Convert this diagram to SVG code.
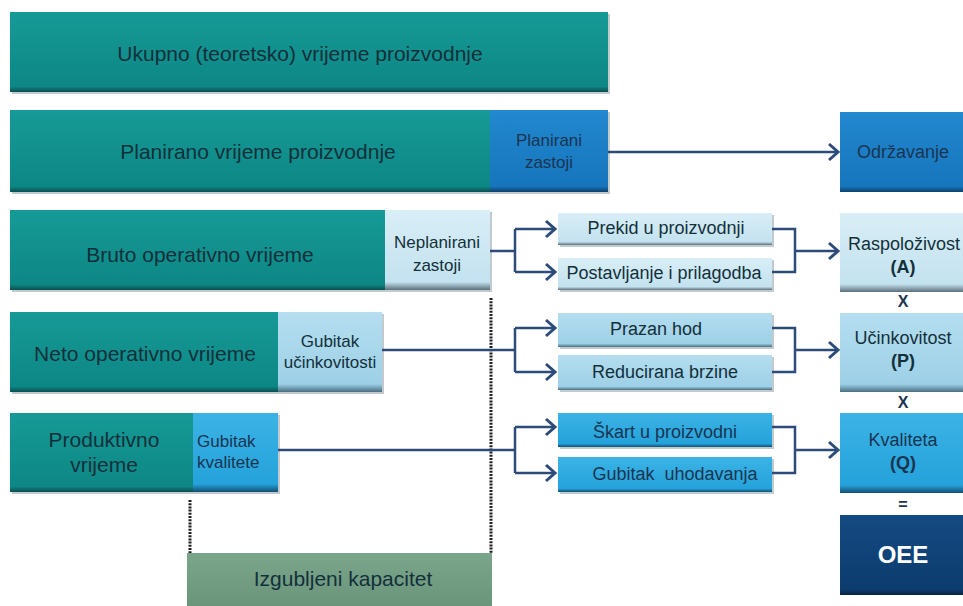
<svg xmlns="http://www.w3.org/2000/svg" width="963" height="606" viewBox="0 0 963 606">
<defs>
<linearGradient id="gTeal" x1="0" y1="0" x2="0" y2="1"><stop offset="0" stop-color="#169a97"/><stop offset="0.93" stop-color="#0d8785"/><stop offset="1" stop-color="#0a4f52"/></linearGradient>
<linearGradient id="gBlue" x1="0" y1="0" x2="0" y2="1"><stop offset="0" stop-color="#2288cf"/><stop offset="0.93" stop-color="#1675bd"/><stop offset="1" stop-color="#0d3f6a"/></linearGradient>
<linearGradient id="gLight" x1="0" y1="0" x2="0" y2="1"><stop offset="0" stop-color="#d9eef7"/><stop offset="0.9" stop-color="#c3e2ef"/><stop offset="1" stop-color="#5d707c"/></linearGradient>
<linearGradient id="gMid" x1="0" y1="0" x2="0" y2="1"><stop offset="0" stop-color="#b5def0"/><stop offset="0.9" stop-color="#9dd0e7"/><stop offset="1" stop-color="#4a6e80"/></linearGradient>
<linearGradient id="gBright" x1="0" y1="0" x2="0" y2="1"><stop offset="0" stop-color="#3cb3e6"/><stop offset="0.9" stop-color="#24a2da"/><stop offset="1" stop-color="#124f72"/></linearGradient>
<linearGradient id="gNavy" x1="0" y1="0" x2="0" y2="1"><stop offset="0" stop-color="#144a82"/><stop offset="0.93" stop-color="#0d3c6e"/><stop offset="1" stop-color="#08223f"/></linearGradient>
<linearGradient id="gGreen" x1="0" y1="0" x2="0" y2="1"><stop offset="0" stop-color="#7ba68b"/><stop offset="1" stop-color="#6a957b"/></linearGradient>
<marker id="arr" markerUnits="userSpaceOnUse" markerWidth="16" markerHeight="20" refX="12" refY="10" orient="auto" viewBox="0 0 16 20">
<path d="M3,2 L12,10 L3,18" fill="none" stroke="#2c4b78" stroke-width="3"/>
</marker>
<style>
text{font-family:"Liberation Sans",Arial,sans-serif;text-anchor:middle;fill:#13303a;}
.big{font-size:21px;}
.sm{font-size:18px;}
.xs{font-size:17px;}
.dk{fill:#1b3550;}
.b{font-weight:bold;}
.op{font-size:16px;font-weight:bold;fill:#1b3550;}
.teal{fill:url(#gTeal);}
.blue{fill:url(#gBlue);}
.light{fill:url(#gLight);}
.midc{fill:url(#gMid);}
.bright{fill:url(#gBright);}
.navy{fill:url(#gNavy);}
.green{fill:url(#gGreen);}
.shadow{fill:#7a8a90;opacity:0.45;}
.con{fill:none;stroke:#2c4b78;stroke-width:2.5;}
.dot{fill:none;stroke:#1e1e1e;stroke-width:3;stroke-dasharray:2 1.2;}
</style>
</defs>
<rect width="963" height="606" fill="#ffffff"/>

<g id="dotted">
<path class="dot" d="M491,298 V553"/>
<path class="dot" d="M190,500 V553"/>
</g>

<g id="n-ukupno">
<rect class="shadow" x="12" y="14" width="598" height="80"/>
<rect class="teal" x="10" y="12" width="598" height="80"/>
<text class="big" x="300" y="61">Ukupno (teoretsko) vrijeme proizvodnje</text>
</g>

<g id="n-planirano">
<rect class="shadow" x="12" y="112" width="598" height="82"/>
<rect class="teal" x="10" y="110" width="480" height="82"/>
<text class="big" x="258" y="159">Planirano vrijeme proizvodnje</text>
</g>
<g id="n-planirani-zastoji">
<rect class="blue" x="490" y="110" width="118" height="82"/>
<text class="xs dk" x="549" y="146">Planirani</text>
<text class="xs dk" x="549" y="168">zastoji</text>
</g>

<g id="n-bruto">
<rect class="shadow" x="12" y="212" width="480" height="80"/>
<rect class="teal" x="10" y="210" width="375" height="80"/>
<text class="big" x="200" y="262">Bruto operativno vrijeme</text>
</g>
<g id="n-neplanirani">
<rect class="light" x="385" y="210" width="105" height="80"/>
<text class="xs" x="437" y="248">Neplanirani</text>
<text class="xs" x="437" y="271">zastoji</text>
</g>

<g id="n-neto">
<rect class="shadow" x="12" y="314" width="372" height="80"/>
<rect class="teal" x="10" y="312" width="268" height="80"/>
<text class="big" x="145" y="361">Neto operativno vrijeme</text>
</g>
<g id="n-gubitak-ucinkovitosti">
<rect class="midc" x="278" y="312" width="104" height="80"/>
<text class="xs" x="330" y="347">Gubitak</text>
<text class="xs" x="330" y="368">učinkovitosti</text>
</g>

<g id="n-produktivno">
<rect class="shadow" x="12" y="415" width="268" height="79"/>
<rect class="teal" x="10" y="413" width="183" height="79"/>
<text class="big" x="104" y="447">Produktivno</text>
<text class="big" x="104" y="472">vrijeme</text>
</g>
<g id="n-gubitak-kvalitete">
<rect class="bright" x="193" y="413" width="85" height="79"/>
<text class="xs dk" x="197" y="447" style="text-anchor:start">Gubitak</text>
<text class="xs dk" x="197" y="468" style="text-anchor:start">kvalitete</text>
</g>

<g id="n-izgubljeni">
<rect class="green" x="187" y="553" width="305" height="53"/>
<text class="big" x="343" y="586">Izgubljeni kapacitet</text>
</g>

<g id="n-prekid">
<rect class="shadow" x="560" y="215" width="214" height="32"/>
<rect class="light" x="558" y="213" width="214" height="32"/>
<text class="sm" x="666" y="234">Prekid u proizvodnji</text>
</g>
<g id="n-postavljanje">
<rect class="shadow" x="560" y="260" width="214" height="32"/>
<rect class="light" x="558" y="258" width="214" height="32"/>
<text class="sm" x="664" y="279">Postavljanje i prilagodba</text>
</g>
<g id="n-prazan">
<rect class="shadow" x="560" y="315" width="214" height="34"/>
<rect class="midc" x="558" y="313" width="214" height="34"/>
<text class="sm" x="656" y="335">Prazan hod</text>
</g>
<g id="n-reducirana">
<rect class="shadow" x="560" y="357" width="214" height="35"/>
<rect class="midc" x="558" y="355" width="214" height="35"/>
<text class="sm" x="665" y="378">Reducirana brzine</text>
</g>
<g id="n-skart">
<rect class="shadow" x="560" y="415" width="214" height="34"/>
<rect class="bright" x="558" y="413" width="214" height="34"/>
<text class="sm dk" x="665" y="438">Škart u proizvodni</text>
</g>
<g id="n-uhodavanje">
<rect class="shadow" x="560" y="459" width="214" height="35"/>
<rect class="bright" x="558" y="457" width="214" height="35"/>
<text class="sm dk" x="675" y="480" xml:space="preserve">Gubitak  uhodavanja</text>
</g>

<g id="n-odrzavanje">
<rect class="blue" x="840" y="112" width="123" height="80"/>
<text class="sm dk" x="903" y="158">Održavanje</text>
</g>
<g id="n-raspolozivost">
<rect class="light" x="840" y="213" width="123" height="79"/>
<text class="sm" x="904" y="250">Raspoloživost</text>
<text class="sm b" x="903" y="273">(A)</text>
</g>
<text class="op" x="903" y="307">X</text>
<g id="n-ucinkovitost">
<rect class="midc" x="840" y="313" width="123" height="79"/>
<text class="sm" x="903" y="344">Učinkovitost</text>
<text class="sm b" x="903" y="367">(P)</text>
</g>
<text class="op" x="903" y="408">X</text>
<g id="n-kvaliteta">
<rect class="bright" x="840" y="413" width="123" height="80"/>
<text class="sm dk" x="903" y="446">Kvaliteta</text>
<text class="sm b dk" x="903" y="469">(Q)</text>
</g>
<text class="op" x="903" y="510">=</text>
<g id="n-oee">
<rect class="navy" x="840" y="515" width="123" height="80"/>
<text class="b" x="903" y="563" style="fill:#ffffff;font-size:24px">OEE</text>
</g>

<g id="connectors">
<path class="con" d="M608,152 H838" marker-end="url(#arr)"/>
<path class="con" d="M490,251 H515"/>
<path class="con" d="M515,229 V272"/>
<path class="con" d="M515,229 H555" marker-end="url(#arr)"/>
<path class="con" d="M515,272 H555" marker-end="url(#arr)"/>
<path class="con" d="M772,229 H795 V272 H772"/>
<path class="con" d="M795,251 H838" marker-end="url(#arr)"/>

<path class="con" d="M382,350 H515"/>
<path class="con" d="M515,328 V372"/>
<path class="con" d="M515,328 H555" marker-end="url(#arr)"/>
<path class="con" d="M515,372 H555" marker-end="url(#arr)"/>
<path class="con" d="M772,328 H795 V372 H772"/>
<path class="con" d="M795,350 H838" marker-end="url(#arr)"/>

<path class="con" d="M278,450 H515"/>
<path class="con" d="M515,427 V473"/>
<path class="con" d="M515,427 H555" marker-end="url(#arr)"/>
<path class="con" d="M515,473 H555" marker-end="url(#arr)"/>
<path class="con" d="M772,427 H795 V473 H772"/>
<path class="con" d="M795,450 H838" marker-end="url(#arr)"/>
</g>
</svg>
